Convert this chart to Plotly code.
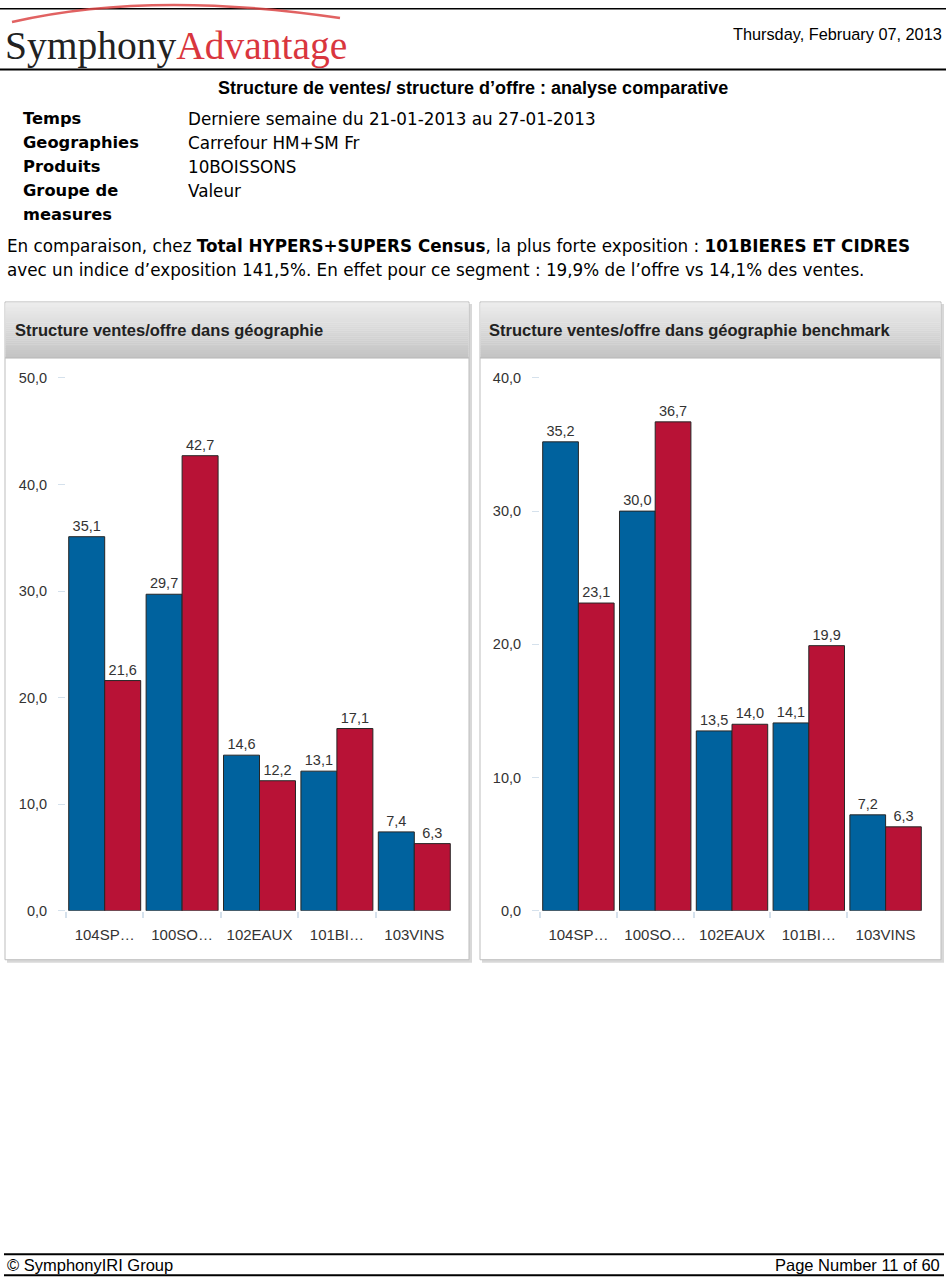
import plotly.graph_objects as go

W, H = 946, 1284

# ---------------- data ----------------
categories = ["104SP…", "100SO…", "102EAUX", "101BI…", "103VINS"]
ventes_geo = [35.1, 29.7, 14.6, 13.1, 7.4]
offre_geo = [21.6, 42.7, 12.2, 17.1, 6.3]
ventes_bench = [35.2, 30.0, 13.5, 14.1, 7.2]
offre_bench = [23.1, 36.7, 14.0, 19.9, 6.3]
left_ticks = [0, 10, 20, 30, 40, 50]
right_ticks = [0, 10, 20, 30, 40]

BLUE = "#00629E"
RED = "#B81236"

# the photographed page shows the figure slightly inset vertically; compensate
OFF, K = 8.0, 0.9878


def px(x):
    return x / W


def py(y):
    yf = (y - OFF) / K
    yf = max(0.75, min(H - 0.75, yf))
    return 1 - yf / H


fig = go.Figure()

bar_common = dict(
    texttemplate="%{y:.1f}",
    textposition="outside",
    textfont=dict(family="Liberation Sans, Arial", size=14.5, color="#333333"),
    cliponaxis=False,
    marker_line=dict(color="#262626", width=1),
    showlegend=False,
    hoverinfo="skip",
)
fig.add_trace(go.Bar(x=categories, y=ventes_geo, marker_color=BLUE, xaxis="x", yaxis="y", **bar_common))
fig.add_trace(go.Bar(x=categories, y=offre_geo, marker_color=RED, xaxis="x", yaxis="y", **bar_common))
fig.add_trace(go.Bar(x=categories, y=ventes_bench, marker_color=BLUE, xaxis="x2", yaxis="y2", **bar_common))
fig.add_trace(go.Bar(x=categories, y=offre_bench, marker_color=RED, xaxis="x2", yaxis="y2", **bar_common))

xax = dict(
    tickson="boundaries", ticks="outside", ticklen=6, tickcolor="#D5E1EC", tickwidth=2,
    showline=False, showgrid=False, zeroline=False, fixedrange=True,
    tickfont=dict(family="Liberation Sans, Arial", size=15, color="#333333"),
    ticklabelstandoff=13,
)
yax = dict(
    ticks="outside", ticklen=7, tickcolor="#D5E1EC", tickwidth=1, tickformat=".1f",
    showline=False, showgrid=False, zeroline=False, ticklabelstandoff=8, fixedrange=True,
    tickfont=dict(family="Liberation Sans, Arial", size=14.5, color="#333333"),
)
ydom = [py(911), py(378)]
fig.update_layout(
    xaxis=dict(domain=[px(66), px(453)], anchor="y", **xax),
    yaxis=dict(domain=ydom, anchor="x", range=[0, 50], tickvals=left_ticks, **yax),
    xaxis2=dict(domain=[px(540), px(924)], anchor="y2", **xax),
    yaxis2=dict(domain=ydom, anchor="x2", range=[0, 40], tickvals=right_ticks, **yax),
    barmode="group",
    bargap=0.07,
    bargroupgap=0,
    width=W,
    height=H,
    margin=dict(l=0, r=0, t=0, b=0),
    paper_bgcolor="white",
    plot_bgcolor="rgba(0,0,0,0)",
    separators=",.",
    showlegend=False,
)

shapes = []


def rect(x0, y0, x1, y1, fill=None, line=None, lw=0, layer="below"):
    shapes.append(dict(
        type="rect", xref="paper", yref="paper",
        x0=px(x0), x1=px(x1), y0=py(y1), y1=py(y0),
        fillcolor=fill if fill else "rgba(0,0,0,0)",
        line=dict(color=line if line else "rgba(0,0,0,0)", width=lw),
        layer=layer,
    ))


def hline(x0, x1, y, color="#000000", lw=1):
    shapes.append(dict(type="line", xref="paper", yref="paper",
                       x0=px(x0), x1=px(x1), y0=py(y), y1=py(y),
                       line=dict(color=color, width=lw)))


hline(0, W, 1, "#000000", 1.5)
hline(0, W, 69.5, "#000000", 2)
hline(4, 944, 1254.5, "#000000", 2)
hline(4, 944, 1277.5, "#000000", 2)

shapes.append(dict(type="path", xref="paper", yref="paper",
                   path="M %f,%f Q %f,%f %f,%f" % (px(12), py(22), px(150), 1 - ((-10 - OFF) / K) / H, px(340), py(18)),
                   line=dict(color="rgba(220,70,70,0.85)", width=2.5)))


def panel(x0, x1):
    y0, y1 = 302, 960
    rect(x0 + 2, y0 + 2, x1 + 3, y1 + 3, fill="#D8D8D8")
    rect(x0, y0, x1, y1, fill="#FFFFFF", line="#BDBDBD", lw=1)
    top, bot = 303, 358
    n = 28
    c0, c1 = (236, 236, 236), (196, 196, 196)
    for i in range(n):
        t = i / (n - 1)
        c = tuple(int(round(c0[k] + (c1[k] - c0[k]) * t)) for k in range(3))
        ya = top + (bot - top) * i / n
        yb = top + (bot - top) * (i + 1) / n + 0.3
        rect(x0 + 0.5, ya, x1 - 0.5, yb, fill="rgb(%d,%d,%d)" % c)
    hline(x0, x1, bot, "#B8B8B8", 1)


panel(5, 469)
panel(480, 941)
fig.update_layout(shapes=shapes)

ann = []


def text(x, y, s, size, family="DejaVu Sans", color="#000000", xanchor="left", yanchor="middle"):
    ann.append(dict(xref="paper", yref="paper", x=px(x), y=py(y), text=s, showarrow=False,
                    xanchor=xanchor, yanchor=yanchor,
                    font=dict(family=family, size=size, color=color)))


text(3, 46, "Symphony<span style='color:#D9363E'>Advantage</span>", 39.5,
     family="Liberation Serif, Times New Roman", color="#222222")
text(944, 34, "Thursday, February 07, 2013", 16.3, family="Liberation Sans, Arial", xanchor="right")
text(473, 88, "<b>Structure de ventes/ structure d’offre : analyse comparative</b>", 18,
     family="Liberation Sans, Arial", xanchor="center")

labels = [("Temps", "Derniere semaine du 21-01-2013 au 27-01-2013", 119),
          ("Geographies", "Carrefour HM+SM Fr", 143),
          ("Produits", "10BOISSONS", 167),
          ("Groupe de", "Valeur", 191)]
for lab, val, yy in labels:
    text(21, yy, "<b>%s</b>" % lab, 16.3)
    text(186, yy, val, 16.8)
text(21, 215, "<b>measures</b>", 16.3)

text(5, 246, "En comparaison, chez <b>Total HYPERS+SUPERS Census</b>, la plus forte exposition : <b>101BIERES ET CIDRES</b>", 16.8)
text(5, 270, "avec un indice d’exposition 141,5%. En effet pour ce segment : 19,9% de l’offre vs 14,1% des ventes.", 16.8)

text(13, 330, "<b>Structure ventes/offre dans géographie</b>", 16.5, family="Liberation Sans, Arial", color="#222222")
text(487, 330, "<b>Structure ventes/offre dans géographie benchmark</b>", 16.5, family="Liberation Sans, Arial", color="#222222")

text(5, 1265, "© SymphonyIRI Group", 16.5, family="Liberation Sans, Arial")
text(942, 1265, "Page Number 11 of 60", 16.5, family="Liberation Sans, Arial", xanchor="right")

fig.update_layout(annotations=ann)

post = (
    "var de=document.documentElement;de.style.margin='0';de.style.padding='0';de.style.overflow='hidden';"
    "var b=document.body;b.style.margin='0';b.style.padding='0';b.style.overflow='hidden';"
    "var g=document.getElementById('{plot_id}');g.style.position='fixed';g.style.top='0px';g.style.left='0px';"
)

fig.write_html("out.html", config={"displayModeBar": False}, post_script=post)
